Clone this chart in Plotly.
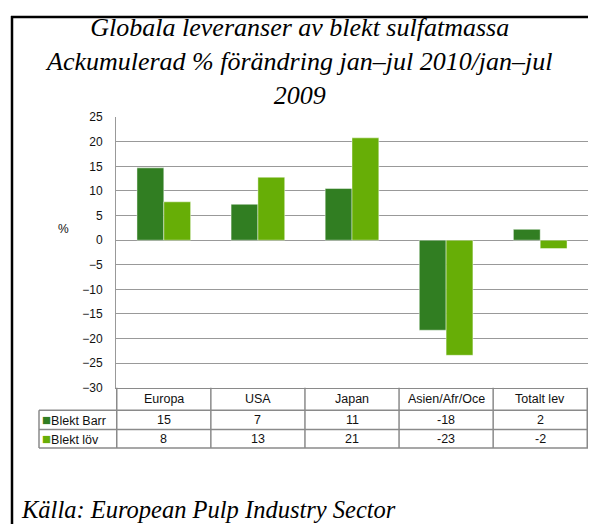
import plotly.graph_objects as go

# ===========[ Data ]=========== #
regions   = ["Europa", "USA", "Japan", "Asien/Afr/Oce", "Totalt lev"]
barr_vals = [14.7, 7.3, 10.5, -18.3, 2.2]     # Blekt Barr (%)
lov_vals  = [7.8, 12.8, 20.8, -23.4, -1.7]    # Blekt löv (%)
barr_tab  = ["15", "7", "11", "-18", "2"]     # table row, as printed
lov_tab   = ["8", "13", "21", "-23", "-2"]
series    = ["Blekt Barr", "Blekt löv"]
y_ticks   = list(range(-30, 30, 5))

title_lines = ["Globala leveranser av blekt sulfatmassa",
               "Ackumulerad % förändring jan\u2013jul 2010/jan\u2013jul",
               "2009"]
source_txt = "Källa: European Pulp Industry Sector"

# Colors
dark_green  = "#317E22"
light_green = "#67AE06"
grid_gray   = "#999999"
tab_gray    = "#8a8a8a"

# ===========[ Geometry (pixels, as seen in the window) ]=========== #
W, H = 596, 524
OFF = 8                               # page body margin
plot_l, plot_r, plot_t, plot_b = 116, 588, 113, 391
row_lines = [391, 414, 434, 453]      # table row boundaries
leg_l = 39


def px(x):
    return (x - OFF) / W


def py(y):
    return (H - (y - OFF)) / H


fig = go.Figure()
fig.add_trace(go.Bar(x=regions, y=barr_vals, name=series[0],
                     marker=dict(color=dark_green, line=dict(color="rgba(255,255,255,0.45)", width=1))))
fig.add_trace(go.Bar(x=regions, y=lov_vals, name=series[1],
                     marker=dict(color=light_green, line=dict(color="rgba(255,255,255,0.45)", width=1))))

fig.update_layout(
    width=W, height=H, autosize=False,
    margin=dict(l=0, r=0, t=0, b=0),
    paper_bgcolor="white", plot_bgcolor="white",
    showlegend=False,
    barmode="group", bargap=0.43, bargroupgap=0,
    font=dict(family="Liberation Sans, Arial, sans-serif", size=12, color="#111"),
)
fig.update_xaxes(domain=[px(plot_l), px(plot_r)], showticklabels=False, showgrid=False,
                 showline=True, linecolor=tab_gray, linewidth=1, ticks="", zeroline=False)
fig.update_yaxes(domain=[py(plot_b), py(plot_t)], range=[-30, 25], tickvals=y_ticks,
                 showgrid=True, gridcolor=grid_gray, gridwidth=1,
                 zeroline=True, zerolinecolor=grid_gray, zerolinewidth=1,
                 showline=True, linecolor=grid_gray, linewidth=1,
                 ticks="", ticklabelstandoff=10, tickfont=dict(size=12, color="#111"))

shapes = []
# table: vertical lines between columns
for i in range(len(regions) + 1):
    shapes.append(dict(type="line", xref="x", yref="paper", x0=i - 0.5, x1=i - 0.5,
                       y0=py(row_lines[0]), y1=py(row_lines[-1]), line=dict(color=tab_gray, width=1.5)))
# table: horizontal lines
for yl in row_lines[1:]:
    shapes.append(dict(type="line", xref="paper", yref="paper", x0=px(leg_l), x1=px(plot_r),
                       y0=py(yl), y1=py(yl), line=dict(color=tab_gray, width=1.5)))
# legend column left edge
shapes.append(dict(type="line", xref="paper", yref="paper", x0=px(leg_l), x1=px(leg_l),
                   y0=py(row_lines[1]), y1=py(row_lines[-1]), line=dict(color=tab_gray, width=1.5)))
# outer frame (left + top)
shapes.append(dict(type="line", xref="paper", yref="paper", x0=px(12), x1=px(12),
                   y0=py(9), y1=-0.05, line=dict(color="black", width=2.5)))
shapes.append(dict(type="line", xref="paper", yref="paper", x0=px(11), x1=px(594),
                   y0=py(10), y1=py(10), line=dict(color="black", width=2.5)))
fig.update_layout(shapes=shapes)

annots = []
row_mid = [(row_lines[k] + row_lines[k + 1]) / 2 for k in range(3)]
for r, b, l in zip(regions, barr_tab, lov_tab):
    for txt, ym in zip([r, b, l], row_mid):
        annots.append(dict(x=r, xref="x", y=py(ym), yref="paper", yanchor="middle",
                           text=txt, showarrow=False, font=dict(size=12.5)))
for name, col, ym in zip(series, [dark_green, light_green], row_mid[1:]):
    annots.append(dict(x=px(leg_l + 1), xref="paper", xanchor="left", y=py(ym), yref="paper",
                       yanchor="middle", showarrow=False, font=dict(size=12.5),
                       text=f"<span style='color:{col};font-size:15px'>\u25a0</span>{name}"))
# % label
annots.append(dict(x=px(56), y=py(228), xref="paper", yref="paper", yanchor="middle",
                   text="%", showarrow=False))
# title
annots.append(dict(x=px(299), y=py(56), xref="paper", yref="paper", yanchor="middle", showarrow=False,
                   text="<br>".join(title_lines),
                   font=dict(family="Liberation Serif, Times New Roman, serif", size=26, color="black", style="italic")))
# source
annots.append(dict(x=px(19), y=py(516), xref="paper", yref="paper", xanchor="left", yanchor="middle",
                   showarrow=False, text=source_txt,
                   font=dict(family="Liberation Serif, Times New Roman, serif", size=24.5, color="black", style="italic")))
fig.update_layout(annotations=annots)

fig.write_html("out.html")
